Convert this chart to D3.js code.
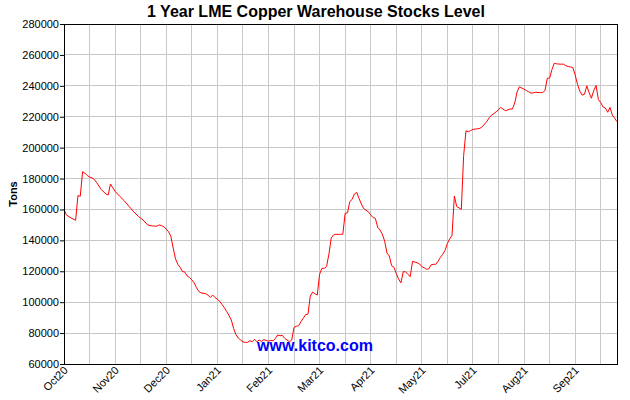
<!DOCTYPE html>
<html>
<head>
<meta charset="utf-8">
<script src="https://cdn.jsdelivr.net/npm/d3@7"></script>
<style>
  body { margin: 0; background: #fff; }
  svg { display: block; font-family: Arial, "Liberation Sans", sans-serif; }
  .tick text { font-size: 11px; fill: #000; }
</style>
</head>
<body>
<svg id="chart"></svg>
<script>
// trading-day index and LME copper stocks (tons)
const stocks = [
  [0,160000],[1,156500],[3,154500],[5,153000],[6,169000],[7,168500],[8,184400],[9,183500],
  [10,182000],[11,181000],[12,180500],[13,179500],[14,177500],[16,173000],[18,170000],[19,169400],
  [20,176500],[21,174000],[22,171700],[24,168500],[26,165500],[28,162000],[30,158500],[32,155500],
  [34,153200],[36,150000],[38,149300],[40,149200],[41,150000],[42,149500],[43,148800],[45,145600],
  [46,142500],[47,135000],[48,128000],[49,124500],[50,122500],[51,119800],[52,119500],[53,117000],
  [54,116000],[55,114500],[56,112500],[57,109500],[58,107000],[59,106000],[61,105500],[62,104500],
  [63,103000],[64,104600],[65,103000],[66,102000],[67,100500],[68,98500],[69,96500],[70,94000],
  [71,91500],[72,88500],[73,83000],[74,79000],[75,76800],[76,75500],[77,74300],[78,74000],
  [79,74000],[80,75100],[81,74400],[82,76000],[83,74400],[84,75500],[85,74600],[86,75800],
  [87,75200],[88,74800],[89,75300],[90,75000],[91,76600],[92,78800],[93,78300],[94,78500],
  [95,76600],[96,75500],[97,74400],[98,75500],[99,83700],[100,84400],[101,84800],[102,87400],
  [103,89600],[104,92000],[105,92200],[106,104000],[107,106500],[108,105500],[109,104600],[110,118000],
  [111,121900],[112,121900],[113,123000],[114,131000],[115,141500],[116,143500],[117,143900],[118,143900],
  [119,143900],[120,144000],[121,157500],[122,157800],[123,165000],[124,166500],[125,170000],[126,171000],
  [127,167000],[128,163500],[129,160500],[130,159500],[131,158500],[132,156500],[133,154800],[134,154200],
  [135,148500],[136,146700],[137,144000],[138,139500],[139,131800],[140,129900],[141,123600],[142,122600],
  [143,118500],[144,115000],[145,112500],[146,119700],[147,119700],[148,118000],[149,116500],[150,126400],
  [151,126000],[152,125500],[153,124800],[154,123000],[155,122300],[156,121300],[157,121500],[158,124200],
  [159,124500],[160,124500],[161,126500],[162,129000],[163,131000],[164,133500],[165,138000],[166,141000],
  [167,143200],[168,168700],[169,162000],[170,161000],[171,160100],[172,195000],[173,210900],[174,210300],
  [175,211000],[176,211800],[177,212000],[178,212200],[179,212500],[180,213500],[181,215200],[182,217000],
  [183,219400],[184,221000],[185,222000],[186,223200],[187,224500],[188,226100],[189,224800],[190,223900],
  [191,224400],[192,225000],[193,225000],[194,229000],[195,236000],[196,239400],[197,238600],[198,237800],
  [199,237000],[200,236200],[201,235200],[202,235500],[203,235800],[204,235700],[205,235600],[206,235600],
  [207,236900],[208,244900],[209,245000],[210,250500],[211,254600],[212,254200],[213,254100],[214,254000],
  [215,254000],[216,253000],[217,252500],[218,252200],[219,251800],[220,247000],[221,241000],[222,236500],
  [223,234000],[224,234500],[225,240000],[226,235500],[227,232000],[228,237000],[229,240200],[230,231000],
  [231,229100],[232,226300],[233,225600],[234,222900],[235,226000],[236,221000],[237,219000],[238,216800]
];

const monthLabels = ['Oct20','Nov20','Dec20','Jan21','Feb21','Mar21','Apr21','May21','Jul21','Aug21','Sep21'];
const labelDays = [0, 22, 44, 66, 88, 110, 132, 154, 176, 198, 220];
const gridDays = d3.range(11, 239, 11);
const yTicks = d3.range(60000, 280001, 20000);

const W = 630, H = 400;
const margin = {top: 24, right: 13, bottom: 36, left: 64};
const width = W - margin.left - margin.right;
const height = H - margin.top - margin.bottom;

const svg = d3.select('#chart').attr('width', W).attr('height', H);

svg.append('text')
  .attr('x', 316).attr('y', 17)
  .attr('text-anchor', 'middle')
  .style('font-size', '16px').style('font-weight', 'bold')
  .text('1 Year LME Copper Warehouse Stocks Level');

svg.append('text')
  .attr('transform', `translate(17,${margin.top + height / 2}) rotate(-90)`)
  .attr('text-anchor', 'middle')
  .style('font-size', '11px').style('font-weight', 'bold')
  .text('Tons');

const chart = svg.append('g')
  .attr('transform', `translate(${margin.left},${margin.top})`);

const x = d3.scaleLinear().domain([0, 238]).range([0, width]);
const y = d3.scaleLinear().domain([60000, 280000]).range([height, 0]);

// grid
chart.append('g')
  .selectAll('line.vg')
  .data(gridDays)
  .join('line')
  .attr('x1', d => x(d)).attr('x2', d => x(d))
  .attr('y1', 0).attr('y2', height)
  .attr('stroke', '#c8c8c8').attr('shape-rendering', 'crispEdges');

chart.append('g')
  .selectAll('line.hg')
  .data(yTicks.slice(1, -1))
  .join('line')
  .attr('x1', 0).attr('x2', width)
  .attr('y1', d => y(d)).attr('y2', d => y(d))
  .attr('stroke', '#c8c8c8').attr('shape-rendering', 'crispEdges');

// stocks line
const line = d3.line()
  .x(d => x(d[0]))
  .y(d => y(d[1]));

chart.append('path')
  .datum(stocks)
  .attr('fill', 'none')
  .attr('stroke', '#ff0000')
  .attr('stroke-width', 1)
  .attr('d', line);

// watermark
chart.append('text')
  .attr('x', 315 - margin.left).attr('y', 351 - margin.top)
  .attr('text-anchor', 'middle')
  .style('font-size', '16px').style('font-weight', 'bold')
  .style('fill', '#0000ff')
  .text('www.kitco.com');

// frame
chart.append('rect')
  .attr('width', width).attr('height', height)
  .attr('fill', 'none').attr('stroke', '#000')
  .attr('shape-rendering', 'crispEdges');

// axes
const yAxis = d3.axisLeft(y)
  .tickValues(yTicks)
  .tickFormat(d3.format('d'))
  .tickSize(4)
  .tickPadding(1);

chart.append('g')
  .call(yAxis)
  .call(g => g.select('.domain').remove())
  .call(g => g.selectAll('.tick line').attr('stroke', '#000'));

const xAxis = d3.axisBottom(x)
  .tickValues(labelDays)
  .tickFormat((d, i) => monthLabels[i])
  .tickSize(0)
  .tickPadding(0);

chart.append('g')
  .attr('transform', `translate(0,${height})`)
  .call(xAxis)
  .call(g => g.select('.domain').remove())
  .call(g => g.selectAll('.tick text')
    .attr('text-anchor', 'end')
    .attr('dy', null)
    .attr('transform', 'translate(4,7) rotate(-45)'));
</script>
</body>
</html>
